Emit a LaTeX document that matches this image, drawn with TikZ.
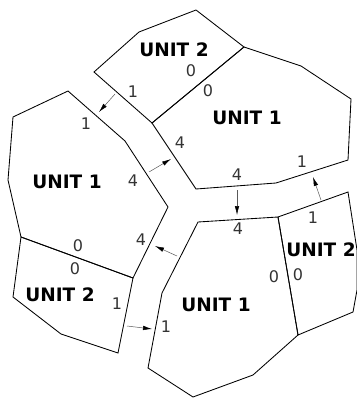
\documentclass[tikz,border=0pt]{standalone}
\usepackage{fontspec}
\setmainfont{DejaVu Sans}
\usetikzlibrary{arrows.meta}
\begin{document}
\begin{tikzpicture}[x=1pt,y=-1pt,
  unit/.style={font=\bfseries\fontsize{18.5}{20}\selectfont, inner sep=0pt},
  num/.style={font=\fontsize{16}{18}\selectfont, text=black!80, inner sep=0pt},
  wall/.style={line width=0.85pt, line join=miter},
  flow/.style={line width=0.5pt, draw=black!65, -{Latex[length=9pt,width=4.5pt,color=black]}}]
\useasboundingbox (0,0) rectangle (356,398);
% rooms
\draw[wall] (139,32)--(196,10)--(244,47)--(152,123)--(94,72)--cycle;
\draw[wall] (152,123)--(244,47)--(301,66)--(351,99)--(348,160)--(276,183)--(196,189)--cycle;
\draw[wall] (68,91)--(125,141)--(168,207)--(133,278)--(21,237)--(8,180)--(13,117)--cycle;
\draw[wall] (21,237)--(133,278)--(118,353)--(61,334)--(13,297)--cycle;
\draw[wall] (198,222)--(278,217)--(298,335)--(253,375)--(193,397)--(148,368)--(162,293)--cycle;
\draw[wall] (278,217)--(348,192)--(357,250)--(357,290)--(353,312)--(298,335)--cycle;
% unit labels
\node[unit] (u2t) at (174,50) {UNIT 2};
\node[unit] (u1t) at (247,118) {UNIT 1};
\node[unit] (u1l) at (67,182) {UNIT 1};
\node[unit] (u2l) at (60,295) {UNIT 2};
\node[unit] (u1b) at (216,305) {UNIT 1};
\node[unit] (u2r) at (321,250) {UNIT 2};
% numbers
\node[num] (n1) at (133,92) {1};
\node[num] (n2) at (86,124) {1};
\node[num] (n3) at (180,143) {4};
\node[num] (n4) at (133,181) {4};
\node[num] (n5) at (237,175) {4};
\node[num] (n6) at (238,229) {4};
\node[num] (n7) at (302,162) {1};
\node[num] (n8) at (313,218) {1};
\node[num] (n9) at (141,240) {4};
\node[num] (n10) at (117,304) {1};
\node[num] (n11) at (166,327) {1};
\node[num] (z1) at (191,71) {0};
\node[num] (z2) at (208,91) {0};
\node[num] (z3) at (78,246) {0};
\node[num] (z4) at (75,269) {0};
\node[num] (z5) at (274,277) {0};
\node[num] (z6) at (298,275) {0};
% arrows
\coordinate (a1s) at (115,94);  \coordinate (a1e) at (99,112);
\coordinate (a2s) at (149,172); \coordinate (a2e) at (171,159);
\coordinate (a3s) at (237,190); \coordinate (a3e) at (237,215);
\coordinate (a4s) at (321,200); \coordinate (a4e) at (313,177);
\coordinate (a5s) at (177,256); \coordinate (a5e) at (155,246);
\coordinate (a6s) at (127,326); \coordinate (a6e) at (152,329);
\draw[flow] (a1s) -- (a1e);
\draw[flow] (a2s) -- (a2e);
\draw[flow] (a3s) -- (a3e);
\draw[flow] (a4s) -- (a4e);
\draw[flow] (a5s) -- (a5e);
\draw[flow] (a6s) -- (a6e);
\end{tikzpicture}
\end{document}
